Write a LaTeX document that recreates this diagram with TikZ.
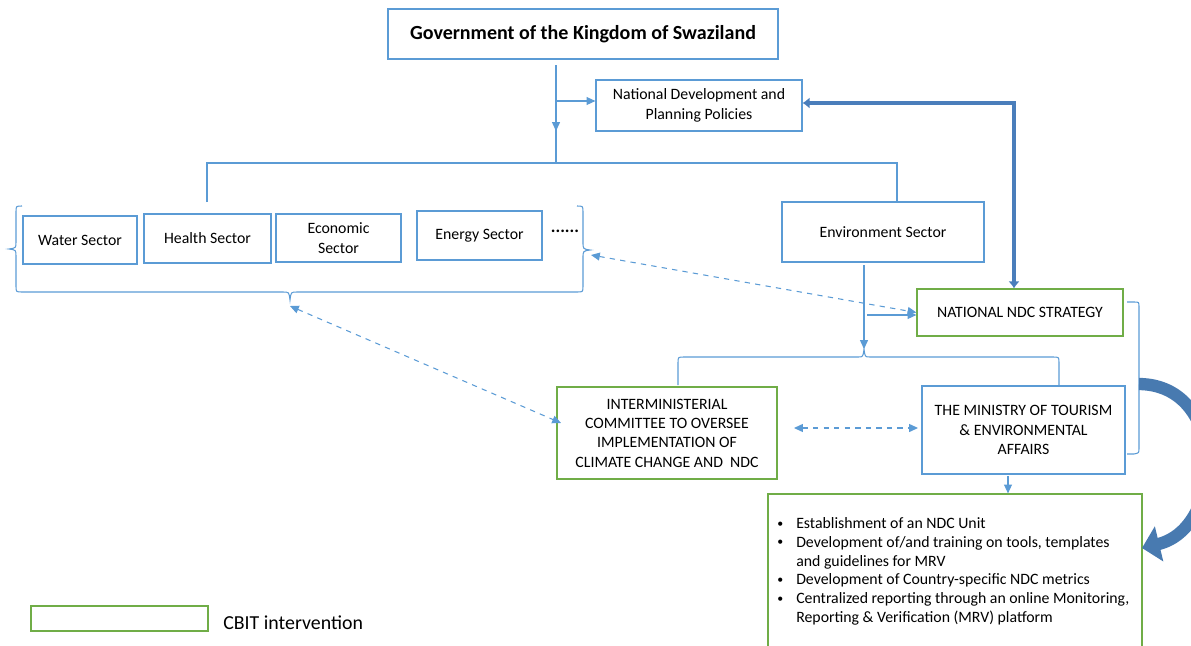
\documentclass[tikz,border=0pt]{standalone}
\usepackage{fontspec}
\setmainfont{Carlito}
\usetikzlibrary{arrows.meta}
\definecolor{lineblue}{RGB}{91,155,213}
\definecolor{steelblue}{RGB}{74,126,187}
\definecolor{curveblue}{RGB}{72,122,176}
\definecolor{cbitgreen}{RGB}{112,173,71}
\newcommand{\smallbullet}{\raisebox{0.2ex}{\scalebox{0.75}{\textbullet}}}

\begin{document}
\begin{tikzpicture}[x=0.02cm,y=-0.02cm,
   box/.style={draw=lineblue,line width=0.7pt,inner sep=0pt,align=center,font=\fontsize{9}{11}\selectfont},
   cbit/.style={box,draw=cbitgreen},
   conn/.style={draw=lineblue,line width=0.6pt},
   arr/.style={conn,-{Triangle[length=5pt,width=4.5pt]}},
   dasharr/.style={conn,dashed,{Triangle[length=5pt,width=4.5pt]}-{Triangle[length=5pt,width=4.5pt]}},
   fatarr/.style={draw=steelblue,line width=2.8pt,{Latex[length=4pt,width=6.5pt]}-{Latex[length=4pt,width=6.5pt]}},
   bigarr/.style={draw=curveblue,line width=7pt,-{Triangle[length=10pt,width=20pt]}}]
   \useasboundingbox (0,0) rectangle (1191,646);

   % boxes
   \node[box,minimum width=7.8cm,minimum height=1cm,font=\fontsize{11.4}{13}\selectfont\bfseries] (gov) at (583,34) {Government of the Kingdom of Swaziland};
   \node[box,minimum width=4.12cm,minimum height=1.02cm] (ndp) at (699,105.5) {National Development and\\Planning Policies};
   \node[box,minimum width=2.28cm,minimum height=0.96cm] (water) at (80,240) {Water Sector};
   \node[box,minimum width=2.54cm,minimum height=0.98cm] (health) at (207.5,238.5) {Health Sector};
   \node[box,minimum width=2.5cm,minimum height=0.96cm] (econ) at (338.5,238) {Economic\\Sector};
   \node[box,minimum width=2.5cm,minimum height=0.98cm] (energy) at (479.5,235.5) {Energy Sector};
   \node[font=\fontsize{10}{12}\selectfont\bfseries] (more) at (565,231) {......};
   \node[box,minimum width=4.04cm,minimum height=1.2cm] (env) at (883,232) {Environment Sector};
   \node[cbit,minimum width=4.12cm,minimum height=0.94cm] (ndc) at (1020,312.5) {NATIONAL NDC STRATEGY};
   \node[cbit,minimum width=4.4cm,minimum height=1.84cm] (inter) at (667,433) {INTERMINISTERIAL\\COMMITTEE TO OVERSEE\\IMPLEMENTATION OF\\CLIMATE CHANGE AND\ \ NDC};
   \node[box,minimum width=4.06cm,minimum height=1.76cm] (mota) at (1023.5,430) {THE MINISTRY OF TOURISM\\\& ENVIRONMENTAL\\AFFAIRS};
   \node[cbit,minimum width=7.48cm,minimum height=3.4cm] (tasks) at (955,579) {};
   \node[anchor=north west,inner sep=0pt,font=\fontsize{9}{10.7}\selectfont] (tasklist) at (777,515) {%
      \begin{tabular}{@{}l@{\hspace{0.26cm}}l@{}}
      \smallbullet & Establishment of an NDC Unit\\
      \smallbullet & Development of/and training on tools, templates\\
                   & and guidelines for MRV\\
      \smallbullet & Development of Country-specific NDC metrics\\
      \smallbullet & Centralized reporting through an online Monitoring,\\
                   & Reporting \& Verification (MRV) platform
      \end{tabular}};

   % legend
   \node[cbit,minimum width=3.54cm,minimum height=0.5cm] (key) at (119.5,618.5) {};
   \node[anchor=west,inner sep=0pt,font=\fontsize{11.3}{13}\selectfont] (keytext) at (223,623) {CBIT intervention};

   % government to policies and sectors
   \coordinate (g1) at (556,65);
   \coordinate (g2) at (556,101);
   \coordinate (g3) at (556,131);
   \coordinate (split) at (556,163);
   \draw[conn] (g1) -- (split);
   \draw[arr] (g1) -- (g3);
   \draw[arr] (g2) -- (g2 -| ndp.west);
   \coordinate (lbar) at (207,202);
   \coordinate (rbar) at (897,163);
   \draw[conn] (lbar) |- (rbar) -- (rbar |- env.north);

   % brace round the sectors
   \draw[conn] (22,206) .. controls (16,206) .. (16,212) -- (16,242) .. controls (16,248) .. (9,249)
      .. controls (16,250) .. (16,256) -- (16,286) .. controls (16,292) .. (22,292) -- (283,292)
      .. controls (289,292) .. (290,300) .. controls (291,292) .. (297,292) -- (577,292)
      .. controls (583,292) .. (583,286) -- (583,258) .. controls (583,251) .. (590,250)
      .. controls (583,249) .. (583,242) -- (583,212) .. controls (583,206) .. (577,206);
   \coordinate (braceb) at (290,306);
   \coordinate (bracer) at (591,255);

   % policies and strategy
   \coordinate (bend) at (1014,103);
   \draw[fatarr] (ndp.east |- bend) -- (bend) -- (bend |- ndc.north);

   % environment sector down to the ministries
   \coordinate (e1) at (864,265);
   \coordinate (e2) at (864,349);
   \coordinate (e3) at (867,315);
   \draw[arr] (e1) -- (e2);
   \draw[arr] (e3) -- (e3 -| ndc.west);
   \coordinate (cl) at (678,385);
   \coordinate (cr) at (1059,386);
   \draw[conn] (cl) -- (678,363) .. controls (678,357) .. (684,357) -- (858,357)
      .. controls (863,357) .. (864,349) .. controls (865,357) .. (870,357) -- (1053,357)
      .. controls (1059,357) .. (1059,363) -- (cr);

   % dashed links
   \coordinate (interin) at (561,423);
   \coordinate (d1) at (794,428);
   \coordinate (d2) at (918,428);
   \draw[dasharr] (bracer) -- (ndc.west);
   \draw[dasharr] (braceb) -- (interin);
   \draw[dasharr] (d1) -- (d2);

   % strategy and ministry bracket, curved arrow to the tasks
   \coordinate (n1) at (1127,302);
   \coordinate (m1) at (1127,454);
   \draw[conn] (n1) -- (1134,302) .. controls (1139,302) .. (1139,307) -- (1139,448)
      .. controls (1139,453) .. (1134,454) -- (m1);
   \coordinate (c0) at (1139,384);
   \coordinate (ctip) at (1142,548);
   \draw[bigarr] (c0) .. controls (1228,385) and (1225,528) .. (ctip);
   \coordinate (m2) at (1008,476);
   \draw[arr] (m2) -- (m2 |- tasks.north);
\end{tikzpicture}
\end{document}
